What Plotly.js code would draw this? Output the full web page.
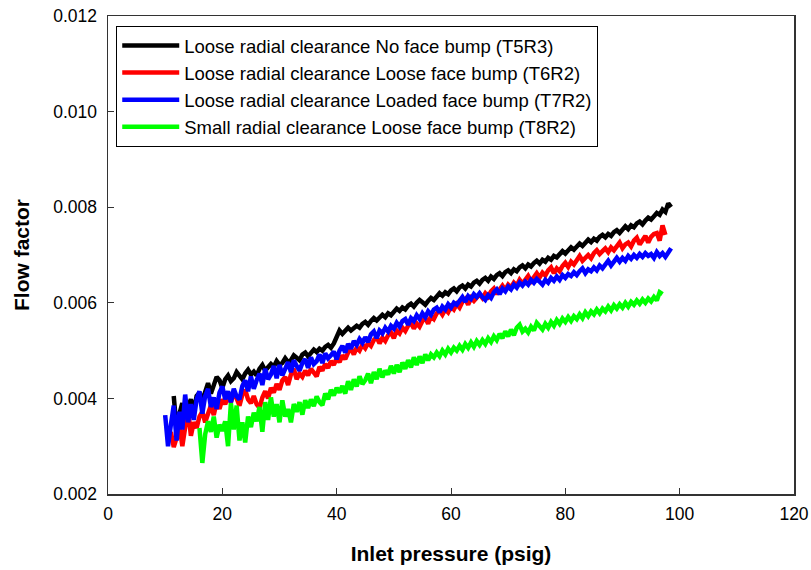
<!DOCTYPE html>
<html>
<head>
<meta charset="utf-8">
<script src="https://cdn.plot.ly/plotly-3.0.1.min.js"></script>
<style>html,body{margin:0;padding:0;background:#fff;}#chart{width:811px;height:570px;}</style>
</head>
<body>
<div id="chart"></div>
<script>
// Series names
const seriesNames = [
  "Loose radial clearance No face bump (T5R3)",
  "Loose radial clearance Loose face bump (T6R2)",
  "Loose radial clearance Loaded face bump (T7R2)",
  "Small radial clearance Loose face bump (T8R2)"
];
const seriesColors = ["#000000", "#ff0000", "#0000ff", "#00ff00"];

// Inlet pressure sampling (psig): start and step for each series
const pressureStep = 0.5;
const startT5R3 = 11.5;
const startT6R2 = 11;
const startT7R2 = 10;
const startT8R2 = 16;

// Flow factor values
const flowT5R3 = [
0.00405,0.00335,0.00368,0.00390,0.00355,0.00382,0.00398,0.00372,0.00405,0.00412,
0.00395,0.00418,0.00432,0.00410,0.00425,0.00445,0.00438,0.00422,0.00440,0.00448,
0.00436,0.00442,0.00455,0.00446,0.00440,0.00452,0.00460,0.00450,0.00456,0.00448,
0.00462,0.00470,0.00458,0.00465,0.00472,0.00466,0.00478,0.00470,0.00474,0.00484,
0.00476,0.00480,0.00490,0.00485,0.00480,0.00492,0.00496,0.00488,0.00494,0.00502,
0.00497,0.00504,0.00500,0.00508,0.00512,0.00506,0.00515,0.00530,0.00542,0.00535,
0.00540,0.00548,0.00542,0.00546,0.00552,0.00548,0.00556,0.00560,0.00554,0.00562,
0.00568,0.00563,0.00570,0.00575,0.00570,0.00578,0.00574,0.00582,0.00588,0.00583,
0.00590,0.00586,0.00594,0.00598,0.00592,0.00600,0.00606,0.00601,0.00596,0.00604,
0.00610,0.00606,0.00614,0.00620,0.00615,0.00622,0.00618,0.00626,0.00630,0.00624,
0.00632,0.00636,0.00630,0.00638,0.00634,0.00642,0.00646,0.00640,0.00648,0.00652,
0.00646,0.00655,0.00650,0.00658,0.00662,0.00656,0.00664,0.00668,0.00662,0.00670,
0.00666,0.00674,0.00678,0.00672,0.00680,0.00676,0.00683,0.00688,0.00682,0.00690,
0.00686,0.00694,0.00690,0.00698,0.00695,0.00702,0.00708,0.00703,0.00710,0.00716,
0.00711,0.00718,0.00724,0.00719,0.00726,0.00732,0.00727,0.00734,0.00730,0.00738,
0.00742,0.00737,0.00744,0.00740,0.00748,0.00752,0.00746,0.00755,0.00760,0.00754,
0.00762,0.00758,0.00766,0.00770,0.00764,0.00772,0.00778,0.00774,0.00782,0.00788,
0.00784,0.00795,0.00790,0.00808,0.00800
];
const flowT6R2 = [
0.00330,0.00298,0.00318,0.00345,0.00300,0.00335,0.00378,0.00322,0.00350,0.00338,
0.00362,0.00372,0.00350,0.00368,0.00385,0.00365,0.00392,0.00378,0.00398,0.00388,
0.00405,0.00392,0.00412,0.00400,0.00385,0.00408,0.00418,0.00398,0.00390,0.00405,
0.00388,0.00380,0.00402,0.00415,0.00400,0.00422,0.00412,0.00430,0.00418,0.00438,
0.00445,0.00428,0.00450,0.00462,0.00440,0.00452,0.00445,0.00458,0.00448,0.00462,
0.00455,0.00446,0.00466,0.00458,0.00472,0.00464,0.00478,0.00470,0.00484,0.00476,
0.00490,0.00482,0.00496,0.00504,0.00492,0.00506,0.00500,0.00512,0.00505,0.00516,
0.00510,0.00522,0.00528,0.00515,0.00527,0.00520,0.00532,0.00538,0.00526,0.00542,
0.00536,0.00548,0.00541,0.00552,0.00558,0.00546,0.00557,0.00550,0.00562,0.00568,
0.00556,0.00572,0.00566,0.00578,0.00584,0.00575,0.00586,0.00580,0.00592,0.00586,
0.00597,0.00590,0.00602,0.00608,0.00596,0.00610,0.00604,0.00612,0.00618,0.00610,
0.00620,0.00613,0.00624,0.00630,0.00618,0.00628,0.00636,0.00627,0.00638,0.00632,
0.00642,0.00636,0.00648,0.00640,0.00650,0.00656,0.00645,0.00655,0.00662,0.00653,
0.00663,0.00657,0.00668,0.00674,0.00662,0.00672,0.00666,0.00677,0.00684,0.00675,
0.00686,0.00680,0.00690,0.00698,0.00688,0.00695,0.00700,0.00693,0.00704,0.00710,
0.00702,0.00708,0.00714,0.00706,0.00716,0.00710,0.00720,0.00726,0.00714,0.00722,
0.00726,0.00718,0.00730,0.00736,0.00722,0.00732,0.00740,0.00726,0.00738,0.00744,
0.00746,0.00730,0.00762,0.00742
];
const flowT7R2 = [
0.00365,0.00300,0.00345,0.00385,0.00312,0.00372,0.00335,0.00408,0.00350,0.00388,
0.00355,0.00398,0.00415,0.00368,0.00405,0.00420,0.00382,0.00402,0.00378,0.00412,
0.00425,0.00398,0.00415,0.00392,0.00420,0.00404,0.00398,0.00426,0.00438,0.00415,
0.00446,0.00420,0.00438,0.00452,0.00428,0.00462,0.00440,0.00450,0.00468,0.00442,
0.00470,0.00448,0.00462,0.00476,0.00455,0.00480,0.00468,0.00458,0.00474,0.00482,
0.00464,0.00486,0.00472,0.00478,0.00492,0.00474,0.00494,0.00484,0.00490,0.00498,
0.00482,0.00500,0.00510,0.00496,0.00514,0.00504,0.00520,0.00512,0.00524,0.00516,
0.00528,0.00518,0.00534,0.00540,0.00526,0.00542,0.00536,0.00548,0.00540,0.00552,
0.00546,0.00558,0.00550,0.00562,0.00566,0.00554,0.00568,0.00562,0.00574,0.00566,
0.00578,0.00570,0.00582,0.00575,0.00586,0.00590,0.00580,0.00592,0.00586,0.00597,
0.00590,0.00600,0.00596,0.00606,0.00612,0.00602,0.00614,0.00608,0.00618,0.00612,
0.00620,0.00612,0.00606,0.00616,0.00610,0.00622,0.00628,0.00618,0.00630,0.00624,
0.00634,0.00628,0.00638,0.00632,0.00642,0.00636,0.00644,0.00638,0.00648,0.00642,
0.00650,0.00644,0.00638,0.00648,0.00642,0.00652,0.00646,0.00655,0.00648,0.00658,
0.00652,0.00660,0.00656,0.00664,0.00658,0.00666,0.00672,0.00662,0.00670,0.00666,
0.00674,0.00668,0.00678,0.00672,0.00682,0.00688,0.00678,0.00688,0.00694,0.00686,
0.00694,0.00688,0.00698,0.00692,0.00700,0.00694,0.00702,0.00696,0.00704,0.00698,
0.00702,0.00694,0.00706,0.00698,0.00704,0.00696,0.00706,0.00714
];
const flowT8R2 = [
0.00338,0.00265,0.00325,0.00352,0.00330,0.00362,0.00318,0.00345,0.00332,0.00352,
0.00300,0.00390,0.00335,0.00385,0.00312,0.00350,0.00308,0.00362,0.00340,0.00370,
0.00352,0.00382,0.00330,0.00392,0.00355,0.00402,0.00362,0.00388,0.00350,0.00396,
0.00362,0.00378,0.00350,0.00388,0.00372,0.00392,0.00366,0.00396,0.00380,0.00398,
0.00384,0.00404,0.00392,0.00386,0.00410,0.00398,0.00418,0.00406,0.00422,0.00412,
0.00426,0.00410,0.00436,0.00418,0.00440,0.00425,0.00446,0.00430,0.00438,0.00452,
0.00432,0.00455,0.00440,0.00462,0.00444,0.00458,0.00450,0.00468,0.00452,0.00470,
0.00455,0.00475,0.00462,0.00480,0.00465,0.00486,0.00470,0.00488,0.00474,0.00492,
0.00480,0.00492,0.00486,0.00496,0.00488,0.00500,0.00492,0.00504,0.00496,0.00506,
0.00500,0.00510,0.00502,0.00514,0.00506,0.00517,0.00508,0.00520,0.00512,0.00522,
0.00514,0.00526,0.00518,0.00530,0.00522,0.00535,0.00526,0.00540,0.00530,0.00544,
0.00532,0.00548,0.00554,0.00540,0.00546,0.00538,0.00550,0.00542,0.00558,0.00550,
0.00544,0.00556,0.00548,0.00560,0.00552,0.00564,0.00556,0.00567,0.00560,0.00570,
0.00562,0.00572,0.00566,0.00576,0.00568,0.00580,0.00572,0.00582,0.00576,0.00586,
0.00578,0.00588,0.00582,0.00592,0.00584,0.00595,0.00588,0.00597,0.00590,0.00600,
0.00592,0.00602,0.00596,0.00605,0.00598,0.00607,0.00600,0.00609,0.00603,0.00612,
0.00605,0.00622,0.00618
];

// Axis settings
const xTitle = "Inlet pressure (psig)";
const yTitle = "Flow factor";
const xRange = [0, 120];
const yRange = [0.002, 0.012];
const xTickStep = 20;
const yTickStep = 0.002;

const starts = [startT5R3, startT6R2, startT7R2, startT8R2];
const values = [flowT5R3, flowT6R2, flowT7R2, flowT8R2];

const traces = values.map((v, i) => ({
  type: "scatter",
  mode: "lines",
  name: seriesNames[i],
  y: v,
  x0: starts[i],
  dx: pressureStep,
  line: {color: seriesColors[i], width: 4.5},
  legendgroup: "g" + i
}));

const font = "Arial, 'Liberation Sans', sans-serif";

const layout = {
  width: 811,
  height: 570,
  margin: {l: 108, r: 17, t: 16, b: 76},
  paper_bgcolor: "#ffffff",
  plot_bgcolor: "#ffffff",
  font: {family: font, size: 16, color: "#000"},
  showlegend: true,
  legend: {
    x: 0.012, y: 0.979, xanchor: "left", yanchor: "top",
    bgcolor: "#ffffff", bordercolor: "#000", borderwidth: 1,
    font: {family: font, size: 18.5, color: "#000"},
    tracegroupgap: 0,
    itemwidth: 57
  },
  xaxis: {
    range: xRange, dtick: xTickStep, tick0: 0,
    showgrid: false, zeroline: false,
    showline: true, mirror: true, linecolor: "#333", linewidth: 1.5,
    ticks: "inside", ticklen: 6, tickwidth: 1, tickcolor: "#333",
    ticklabelstandoff: 3,
    tickfont: {family: font, size: 17.5, color: "#000"},
    title: {text: xTitle, font: {family: font, size: 21, color: "#000", weight: "bold"}, standoff: 24}
  },
  yaxis: {
    range: yRange, dtick: yTickStep, tick0: 0.002, tickformat: ".3f",
    showgrid: false, zeroline: false,
    showline: true, mirror: true, linecolor: "#333", linewidth: 1.5,
    ticks: "inside", ticklen: 6, tickwidth: 1, tickcolor: "#333",
    ticklabelstandoff: 6,
    tickfont: {family: font, size: 17.5, color: "#000"},
    title: {text: yTitle, font: {family: font, size: 21, color: "#000", weight: "bold"}, standoff: 18}
  }
};

Plotly.newPlot("chart", traces, layout, {staticPlot: true, displayModeBar: false});
</script>
</body>
</html>
